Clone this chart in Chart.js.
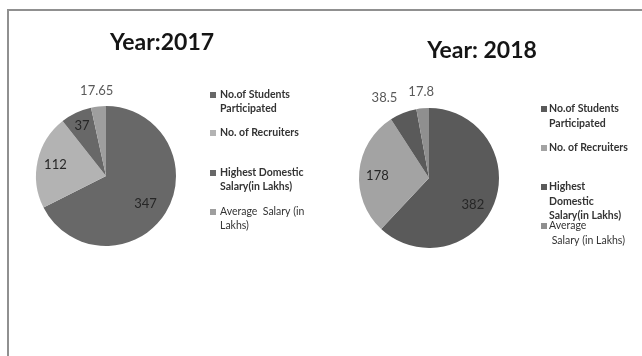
<!DOCTYPE html>
<html>
<head>
<meta charset="utf-8">
<script src="https://cdn.jsdelivr.net/npm/chart.js@4.4.1/dist/chart.umd.min.js"></script>
<style>
	html, body { margin: 0; padding: 0; background: #fff; }
	#wrap { position: relative; width: 642px; height: 356px; overflow: hidden; }
	#frame { position: absolute; left: 7px; top: 9px; width: 700px; height: 400px; border-left: 2px solid #909090; border-top: 2px solid #909090; }
	.box { position: absolute; top: 0; width: 321px; height: 356px; }
</style>
</head>
<body>
<div id="wrap">
	<div id="frame"></div>
	<div class="box" style="left:0"><canvas id="chart2017"></canvas></div>
	<div class="box" style="left:321px"><canvas id="chart2018"></canvas></div>
</div>
<script>
const title2017 = "Year:2017";
const title2018 = "Year: 2018";
const categories2017 = [
	["No.of Students", "Participated"],
	["No. of Recruiters"],
	["Highest Domestic", "Salary(in Lakhs)"],
	["Average  Salary (in", "Lakhs)"],
];
const categories2018 = [
	["No.of Students", "Participated"],
	["No. of Recruiters"],
	["Highest", "Domestic", "Salary(in Lakhs)"],
	["Average", " Salary (in Lakhs)"],
];
const values2017 = [347, 112, 37, 17.65];
const values2018 = [382, 178, 38.5, 17.8];

const FONT = "Lato, 'Open Sans', sans-serif";

// draws value labels, title and legend like the old spreadsheet export
const sheetLook = {
	id: "sheetLook",
	afterDatasetsDraw(chart, args, opts) {
		const ctx = chart.ctx;
		const ds = chart.data.datasets[0];
		const meta = chart.getDatasetMeta(0);
		ctx.save();

		ctx.font = "13px " + FONT;
		ctx.textAlign = "center";
		ctx.textBaseline = "middle";
		meta.data.forEach((arc, i) => {
			const p = arc.getProps(["x", "y", "startAngle", "endAngle", "outerRadius"], true);
			const mid = (p.startAngle + p.endAngle) / 2;
			const r = p.outerRadius * opts.labelRadius[i];
			const shift = opts.labelShift[i];
			ctx.fillStyle = opts.labelRadius[i] > 1 ? "#5a5a5a" : "#262626";
			ctx.fillText(String(ds.data[i]), p.x + Math.cos(mid) * r + shift[0], p.y + Math.sin(mid) * r + shift[1]);
		});

		ctx.font = "bold 23px " + FONT;
		ctx.fillStyle = "#151515";
		ctx.textBaseline = "alphabetic";
		ctx.fillText(opts.title, opts.titleX, opts.titleY);

		ctx.textAlign = "left";
		ctx.textBaseline = "middle";
		chart.data.labels.forEach((lines, i) => {
			const y = opts.legendY[i];
			ctx.fillStyle = ds.backgroundColor[i];
			ctx.fillRect(opts.markerX, y - 3, 6, 6);
			ctx.fillStyle = "#333";
			ctx.font = opts.legendWeight[i] + " 10.5px " + FONT;
			lines.forEach((line, k) => {
				ctx.fillText(line, opts.textX, y + k * opts.lineHeight);
			});
		});
		ctx.restore();
	},
};

function pieOptions(padding, look) {
	return {
		responsive: true,
		maintainAspectRatio: false,
		animation: false,
		layout: { padding: padding },
		plugins: {
			legend: { display: false },
			title: { display: false },
			tooltip: { enabled: false },
			sheetLook: look,
		},
	};
}

new Chart(document.getElementById("chart2017"), {
	type: "pie",
	data: {
		labels: categories2017,
		datasets: [
			{
				data: values2017,
				backgroundColor: ["#686868", "#b3b3b3", "#686868", "#9e9e9e"],
				borderWidth: 0,
			},
		],
	},
	options: pieOptions(
		{ left: 36, right: 145, top: 106, bottom: 110 },
		{
			title: title2017,
			titleX: 162,
			titleY: 50,
			labelRadius: [0.68, 0.74, 0.8, 1.23],
			labelShift: [[-1, 3], [0, 0], [0, 0], [0, 0]],
			markerX: 210,
			textX: 220,
			legendY: [95, 133, 173, 212],
			lineHeight: 14,
			legendWeight: ["bold", "bold", "bold", "normal"],
		}
	),
	plugins: [sheetLook],
});

new Chart(document.getElementById("chart2018"), {
	type: "pie",
	data: {
		labels: categories2018,
		datasets: [
			{
				data: values2018,
				backgroundColor: ["#5a5a5a", "#a3a3a3", "#5a5a5a", "#8f8f8f"],
				borderWidth: 0,
			},
		],
	},
	options: pieOptions(
		{ left: 38, right: 143, top: 108, bottom: 108 },
		{
			title: title2018,
			titleX: 161,
			titleY: 58,
			labelRadius: [0.72, 0.74, 1.3, 1.23],
			labelShift: [[-3, 8], [0, 2], [-11, 4], [0, 0]],
			markerX: 220,
			textX: 228,
			legendY: [109, 148, 187, 226],
			lineHeight: 14.5,
			legendWeight: ["bold", "bold", "bold", "normal"],
		}
	),
	plugins: [sheetLook],
});
</script>
</body>
</html>
